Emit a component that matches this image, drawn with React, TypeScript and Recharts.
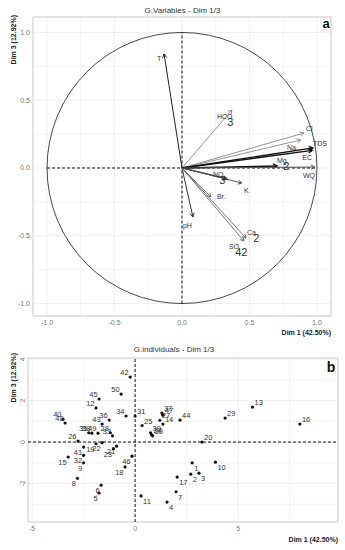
import React from "react";
import {
  ScatterChart,
  Scatter,
  XAxis,
  YAxis,
  CartesianGrid,
  ReferenceLine,
  ReferenceArea,
} from "recharts";

// ---- panel a: variables (Dim 1 vs Dim 3) ----
const VARIABLES = ["T", "HCO3", "Cl", "Na", "TDS", "EC", "Mg2", "WQ", "NO3", "K", "Br", "pH", "Ca2", "SO42"];
const VAR_BASE = ["T", "HCO", "Cl", "Na", "TDS", "EC", "Mg", "WQ", "NO", "K", "Br.", "pH", "Ca", "SO"];
const VAR_SUB = ["", "3", "", "", "", "", "2", "", "3", "", "", "", "2", "42"];
const VAR_DIM1 = [-0.133, 0.37, 0.904, 0.881, 0.97, 0.965, 0.704, 0.985, 0.333, 0.444, 0.215, 0.081, 0.474, 0.459];
const VAR_DIM3 = [0.841, 0.428, 0.258, 0.207, 0.148, 0.13, 0.015, 0.007, -0.081, -0.111, -0.214, -0.362, -0.517, -0.539];

const TOP_TICKS = [-1, -0.5, 0, 0.5, 1];
const TOP_MINOR = [-0.75, -0.25, 0.25, 0.75];

// ---- panel b: individuals ----
const IND_IDS = [
  1, 2, 3, 4, 5, 6, 7, 8, 9, 10, 11, 12, 13, 14, 15, 16, 17, 18, 19, 20, 21, 22, 23, 24, 25,
  26, 27, 28, 29, 30, 31, 32, 33, 34, 35, 36, 37, 38, 39, 40, 41, 42, 43, 44, 45, 46, 47, 48, 49, 50,
];
const IND_DIM1 = [
  2.77, 2.7, 3.1, 1.55, -1.75, -1.65, 1.99, -2.8, -2.5, 3.9, 0.29, -1.9, 5.7, 1.35, -3.25, 8.0, 2.04, -0.49, -1.9, 3.25,
  -0.9, -1.6, -1.05, 0.8, 0.34, -2.77, 1.2, -1.2, 4.37, 0.85, 0.0, -2.5, -1.1, -0.44, -2.25, -1.26, 1.3, -2.1, 0.75, -3.5,
  -2.5, -0.24, -1.6, 2.18, -1.75, -0.15, 1.35, -3.4, -1.8, -0.68,
];
const IND_DIM3 = [
  -1.0, -1.55, -1.5, -2.9, -2.46, -2.08, -2.4, -1.75, -1.0, -0.97, -2.6, 1.65, 1.69, 0.87, -0.72, 0.87, -1.69, -1.2, -0.08, 0.0,
  -0.2, -0.03, -0.32, 0.35, 0.8, 0.05, 1.05, 0.45, 1.16, 0.3, 1.26, -0.64, 0.3, 1.26, 0.45, 1.06, 1.4, 0.43, 0.45, 1.1,
  -0.24, 3.14, 0.87, 1.06, 2.08, -0.68, 1.3, 0.92, 0.43, 2.32,
];

const BOT_X_TICKS = [-5, 0, 5];
const BOT_Y_TICKS = [-2, 0, 2, 4];
const BOT_X_MINOR = [-2.5, 2.5, 7.5];
const BOT_Y_MINOR = [-3, -1, 1, 3];

const TOP_X_DOMAIN = [-1.104, 1.104];
const TOP_Y_DOMAIN = [-1.092, 1.114];
const BOT_X_DOMAIN = [-5.2, 9.85];
const BOT_Y_DOMAIN = [-3.86, 4.06];

// label placement & arrow styling for panel a (pixel offsets from tip)
const LABEL_POS: Record<string, [number, number]> = {
  T: [-7, 7],
  HCO3: [-15, 9],
  Cl: [2, -2],
  Na: [-14, 10],
  TDS: [0, -2],
  EC: [-10, 10],
  Mg2: [0, -3],
  WQ: [-12, 11],
  NO3: [-14, -2],
  K: [2, 10],
  Br: [6, 2],
  pH: [-10, 11],
  Ca2: [1, -3],
  SO42: [-15, 8],
};
const ARROW_STYLE: Record<string, [string, number]> = {
  T: ["#222", 1],
  HCO3: ["#777", 0.8],
  Cl: ["#888", 0.9],
  Na: ["#888", 0.9],
  TDS: ["#111", 1.4],
  EC: ["#111", 1.4],
  Mg2: ["#111", 1.5],
  WQ: ["#555", 1],
  NO3: ["#222", 1.3],
  K: ["#555", 1],
  Br: ["#666", 0.9],
  pH: ["#333", 1],
  Ca2: ["#666", 0.9],
  SO42: ["#666", 0.9],
};

const FONT = "'Liberation Sans', Arial, sans-serif";
const GRID = "#ebebeb";

const arrowShape = (color: string, w: number) => (p: any) => {
  const { x1, y1, x2, y2 } = p;
  const ang = Math.atan2(y2 - y1, x2 - x1);
  const L = 4.5;
  const a = 0.5;
  const ax = x2 - L * Math.cos(ang - a);
  const ay = y2 - L * Math.sin(ang - a);
  const bx = x2 - L * Math.cos(ang + a);
  const by = y2 - L * Math.sin(ang + a);
  return (
    <g>
      <line x1={x1} y1={y1} x2={x2} y2={y2} stroke={color} strokeWidth={w} />
      <polyline points={`${ax},${ay} ${x2},${y2} ${bx},${by}`} fill="none" stroke={color} strokeWidth={w} />
    </g>
  );
};

const circleShape = (p: any) => {
  const { x1, y1, x2, y2 } = p;
  return (
    <ellipse
      cx={(x1 + x2) / 2}
      cy={(y1 + y2) / 2}
      rx={Math.abs(x2 - x1) / 2}
      ry={Math.abs(y2 - y1) / 2}
      fill="none"
      stroke="#333"
      strokeWidth={0.9}
    />
  );
};

const VarLabel = (p: any) => {
  const { cx, cy, payload } = p;
  const [dx, dy] = LABEL_POS[payload.name] || [2, -2];
  const bx = cx + dx;
  const by = cy + dy;
  const baseW = payload.base.length * 3.9;
  return (
    <g fontFamily={FONT} fill="#333">
      <text x={bx} y={by} fontSize={7}>
        {payload.base}
      </text>
      {payload.sub && (
        <text x={bx + baseW - 1.5} y={by + 7} fontSize={11}>
          {payload.sub}
        </text>
      )}
    </g>
  );
};

const IndPoint = (p: any) => {
  const { cx, cy, payload } = p;
  const left = payload.x < 0;
  const up = payload.y >= 0;
  return (
    <g>
      <circle cx={cx} cy={cy} r={1.6} fill="#111" />
      <text
        x={cx + (left ? -1.5 : 2)}
        y={cy + (up ? -2 : 8)}
        textAnchor={left ? "end" : "start"}
        fontSize={7.5}
        fontFamily={FONT}
        fill="#333"
      >
        {payload.id}
      </text>
    </g>
  );
};

const RotTick = (p: any) => {
  const { x, y, payload } = p;
  return (
    <text x={x} y={y} transform={`rotate(-90 ${x} ${y})`} textAnchor="middle" fontSize={7} fill="#777" fontFamily={FONT}>
      {payload.value}
    </text>
  );
};

export default function App() {
  const varData = VARIABLES.map((name, i) => ({
    name,
    base: VAR_BASE[i],
    sub: VAR_SUB[i],
    x: VAR_DIM1[i],
    y: VAR_DIM3[i],
  }));
  const indData = IND_IDS.map((id, i) => ({ id, x: IND_DIM1[i], y: IND_DIM3[i] }));
  const tickStyle = { fontSize: 7, fill: "#777", fontFamily: FONT };

  return (
    <div style={{ position: "absolute", left: 0, top: 0, width: 345, height: 550, background: "#fff" }}>
      <div style={{ position: "absolute", left: 0, top: 0 }}>
        <ScatterChart width={345} height={340} margin={{ top: 17, right: 14, bottom: 4, left: 0 }}>
          <CartesianGrid stroke={GRID} strokeWidth={0.8} />
          {TOP_MINOR.map((v) => (
            <ReferenceLine key={"vx" + v} x={v} stroke={GRID} strokeWidth={0.6} />
          ))}
          {TOP_MINOR.map((v) => (
            <ReferenceLine key={"vy" + v} y={v} stroke={GRID} strokeWidth={0.6} />
          ))}
          <ReferenceArea
            x1={TOP_X_DOMAIN[0]}
            x2={TOP_X_DOMAIN[1]}
            y1={TOP_Y_DOMAIN[0]}
            y2={TOP_Y_DOMAIN[1]}
            fill="none"
            stroke="#d0d0d0"
            ifOverflow="visible"
          />
          <XAxis
            type="number"
            dataKey="x"
            domain={TOP_X_DOMAIN}
            ticks={TOP_TICKS}
            tickFormatter={(v: number) => v.toFixed(1)}
            axisLine={false}
            tickLine={false}
            tickSize={0}
            tickMargin={4}
            height={20}
            tick={tickStyle}
            allowDataOverflow
          />
          <YAxis
            type="number"
            dataKey="y"
            domain={TOP_Y_DOMAIN}
            ticks={TOP_TICKS}
            tickFormatter={(v: number) => v.toFixed(1)}
            axisLine={false}
            tickLine={false}
            tickSize={0}
            tickMargin={3}
            width={33}
            tick={tickStyle}
            allowDataOverflow
          />
          <ReferenceLine segment={[{ x: -1, y: -1 }, { x: 1, y: 1 }]} shape={circleShape} />
          <ReferenceLine
            segment={[{ x: -1, y: 0 }, { x: 1, y: 0 }]}
            stroke="#111"
            strokeWidth={1}
            strokeDasharray="3 2"
          />
          <ReferenceLine
            segment={[{ x: 0, y: -1 }, { x: 0, y: 1 }]}
            stroke="#111"
            strokeWidth={1}
            strokeDasharray="3 2"
          />
          {varData.map((d) => {
            const [c, w] = ARROW_STYLE[d.name];
            return (
              <ReferenceLine
                key={"arr" + d.name}
                segment={[{ x: 0, y: 0 }, { x: d.x, y: d.y }]}
                shape={arrowShape(c, w)}
              />
            );
          })}
          <Scatter data={varData} shape={VarLabel} isAnimationActive={false} />
        </ScatterChart>
      </div>

      <div style={{ position: "absolute", left: 0, top: 340 }}>
        <ScatterChart width={345} height={210} margin={{ top: 18, right: 7, bottom: 8, left: 0 }}>
          <CartesianGrid stroke={GRID} strokeWidth={0.8} />
          {BOT_X_MINOR.map((v) => (
            <ReferenceLine key={"bx" + v} x={v} stroke={GRID} strokeWidth={0.6} />
          ))}
          {BOT_Y_MINOR.map((v) => (
            <ReferenceLine key={"by" + v} y={v} stroke={GRID} strokeWidth={0.6} />
          ))}
          <ReferenceArea
            x1={BOT_X_DOMAIN[0]}
            x2={BOT_X_DOMAIN[1]}
            y1={BOT_Y_DOMAIN[0]}
            y2={BOT_Y_DOMAIN[1]}
            fill="none"
            stroke="#d0d0d0"
            ifOverflow="visible"
          />
          <XAxis
            type="number"
            dataKey="x"
            domain={BOT_X_DOMAIN}
            ticks={BOT_X_TICKS}
            axisLine={false}
            tickLine={false}
            tickSize={0}
            tickMargin={4}
            height={20}
            tick={tickStyle}
            allowDataOverflow
          />
          <YAxis
            type="number"
            dataKey="y"
            domain={BOT_Y_DOMAIN}
            ticks={BOT_Y_TICKS}
            axisLine={false}
            tickLine={false}
            tickSize={0}
            tickMargin={3}
            width={28}
            tick={<RotTick />}
            allowDataOverflow
          />
          <ReferenceLine y={0} stroke="#111" strokeWidth={1} strokeDasharray="3 2" />
          <ReferenceLine x={0} stroke="#111" strokeWidth={1} strokeDasharray="3 2" />
          <Scatter data={indData} shape={IndPoint} isAnimationActive={false} />
        </ScatterChart>
      </div>

      <svg
        width={345}
        height={550}
        style={{ position: "absolute", left: 0, top: 0, pointerEvents: "none" }}
        fontFamily={FONT}
      >
        <text x={182.5} y={13} textAnchor="middle" fontSize={8} fill="#333">
          G.Variables - Dim 1/3
        </text>
        <text x={326} y={28} textAnchor="middle" fontSize={13} fontWeight="bold" fill="#111">
          a
        </text>
        <text x={331} y={335} textAnchor="end" fontSize={7} fontWeight="bold" fill="#222">
          Dim 1 (42.50%)
        </text>
        <text x={16} y={15} transform="rotate(-90 16 15)" textAnchor="end" fontSize={7} fontWeight="bold" fill="#222">
          Dim 3 (12.92%)
        </text>

        <text x={174} y={352} textAnchor="middle" fontSize={8} fill="#333">
          G.individuals - Dim 1/3
        </text>
        <text x={331} y={372} textAnchor="middle" fontSize={14} fontWeight="bold" fill="#111">
          b
        </text>
        <text x={338} y={542} textAnchor="end" fontSize={7} fontWeight="bold" fill="#222">
          Dim 1 (42.50%)
        </text>
        <text x={16} y={353} transform="rotate(-90 16 353)" textAnchor="end" fontSize={7} fontWeight="bold" fill="#222">
          Dim 3 (12.92%)
        </text>
      </svg>
    </div>
  );
}
